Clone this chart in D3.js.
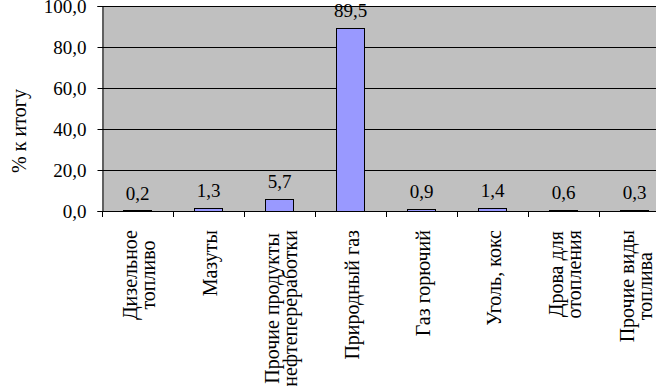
<!DOCTYPE html>
<html>
<head>
<meta charset="utf-8">
<script src="https://cdn.jsdelivr.net/npm/d3@7"></script>
</head>
<body style="margin:0">
<svg width="656" height="386"></svg>
<script>
const categories = [
    ['Дизельное', 'топливо'],
    ['Мазуты'],
    ['Прочие продукты', 'нефтепереработки'],
    ['Природный газ'],
    ['Газ горючий'],
    ['Уголь, кокс'],
    ['Дрова для', 'отопления'],
    ['Прочие виды', 'топлива']
];
const values = [0.2, 1.3, 5.7, 89.5, 0.9, 1.4, 0.6, 0.3];
const yTicks = [0, 20, 40, 60, 80, 100];
const yTitle = '% к итогу';

const FONT = '"Liberation Serif", "Times New Roman", serif';

const svg = d3.select('svg');
const fmt = v => d3.format('.1f')(v).replace('.', ',');

const plotLeft = 102, plotRight = 670, plotTop = 6, plotBottom = 211;

const x = d3.scaleBand()
    .domain(d3.range(categories.length))
    .range([plotLeft, plotRight]);

const y = d3.scaleLinear()
    .domain([0, 100])
    .range([plotBottom, plotTop]);

// plot background
svg.append('rect')
    .attr('x', plotLeft)
    .attr('y', plotTop)
    .attr('width', plotRight - plotLeft)
    .attr('height', plotBottom - plotTop)
    .attr('fill', '#C0C0C0');

// gridlines
svg.append('g')
    .selectAll('line')
    .data(yTicks.filter(d => d > 0))
    .join('line')
    .attr('x1', plotLeft)
    .attr('x2', plotRight)
    .attr('y1', d => Math.round(y(d)) + 0.5)
    .attr('y2', d => Math.round(y(d)) + 0.5)
    .attr('stroke', '#000');

// bars
svg.append('g')
    .selectAll('rect')
    .data(values)
    .join('rect')
    .attr('x', (d, i) => Math.round(x(i) + x.bandwidth() * 0.3) + 0.5)
    .attr('y', d => Math.min(Math.round(y(d)), plotBottom - 1) + 0.5)
    .attr('width', Math.round(x.bandwidth() * 0.4))
    .attr('height', d => Math.max(1, plotBottom - Math.round(y(d))))
    .attr('fill', '#9999FF')
    .attr('stroke', '#000');

// data labels
svg.append('g')
    .selectAll('text')
    .data(values)
    .join('text')
    .attr('x', (d, i) => x(i) + x.bandwidth() / 2)
    .attr('y', d => y(d) - 11)
    .attr('text-anchor', 'middle')
    .attr('font-size', 19)
    .style('font-family', FONT)
    .text(d => fmt(d));

// y axis
const yAxis = svg.append('g')
    .attr('transform', `translate(${plotLeft + 0.5},0)`)
    .call(d3.axisLeft(y).tickValues(yTicks).tickSize(5).tickPadding(11).tickFormat(fmt));
yAxis.selectAll('line, path').attr('stroke', '#000');
yAxis.selectAll('text')
    .attr('fill', '#000')
    .attr('font-size', 19)
    .style('font-family', FONT);

// x axis line and ticks between categories
const xAxis = svg.append('g');
xAxis.append('line')
    .attr('x1', plotLeft)
    .attr('x2', plotRight)
    .attr('y1', plotBottom + 0.5)
    .attr('y2', plotBottom + 0.5)
    .attr('stroke', '#000');
xAxis.selectAll('line.tick')
    .data(d3.range(categories.length + 1))
    .join('line')
    .attr('class', 'tick')
    .attr('x1', i => Math.round(plotLeft + i * x.step()) + 0.5)
    .attr('x2', i => Math.round(plotLeft + i * x.step()) + 0.5)
    .attr('y1', plotBottom)
    .attr('y2', plotBottom + 6)
    .attr('stroke', '#000');

// category labels, rotated, lines centred within block
const labels = svg.append('g')
    .selectAll('g')
    .data(categories)
    .join('g')
    .attr('transform', (d, i) => `translate(${x(i) + x.bandwidth() / 2},230) rotate(-90)`);

labels.each(function (lines) {
    const g = d3.select(this);
    const texts = g.selectAll('text')
        .data(lines)
        .join('text')
        .attr('font-size', 20)
        .style('font-family', FONT)
        .attr('text-anchor', 'middle')
        .attr('y', (d, j) => 8.5 + (j - (lines.length - 1) / 2) * 18)
        .text(d => d);
    let maxLen = 0;
    texts.each(function () { maxLen = Math.max(maxLen, this.getComputedTextLength()); });
    texts.attr('x', -maxLen / 2);
});

// y title
svg.append('text')
    .attr('transform', 'translate(26,131) rotate(-90)')
    .attr('text-anchor', 'middle')
    .attr('font-size', 20)
    .style('font-family', FONT)
    .text(yTitle);
</script>
</body>
</html>
